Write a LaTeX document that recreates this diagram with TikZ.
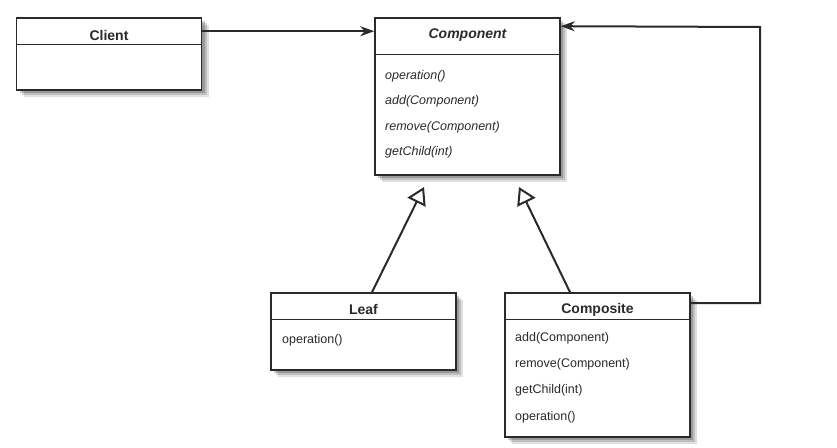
\documentclass[tikz,border=0pt]{standalone}
\usepackage{fontspec}
\setmainfont{Liberation Sans}
\usetikzlibrary{shadows,arrows.meta}
\definecolor{ink}{HTML}{2A2A2A}
\tikzset{
  classbox/.style={draw=ink, line width=1.6pt, fill=white, minimum width=185pt, inner sep=0pt,
    drop shadow={shadow xshift=7pt, shadow yshift=-7pt, opacity=.12, fill=black},
    drop shadow={shadow xshift=5pt, shadow yshift=-5pt, opacity=.15, fill=black},
    drop shadow={shadow xshift=3pt, shadow yshift=-3pt, opacity=.2, fill=black}},
  divider/.style={draw=ink, line width=1.2pt},
  classname/.style={font=\fontsize{14}{16}\selectfont\bfseries, text=ink},
  method/.style={anchor=west, font=\fontsize{12.5}{14}\selectfont, text=ink, inner sep=0pt},
  assoc/.style={draw=ink, line width=2pt, -{Stealth[length=14pt,width=10pt]}},
  inherit/.style={draw=ink, line width=2pt, -{Triangle[open,length=17pt,width=20pt,line width=2pt]}}
}
\begin{document}
\begin{tikzpicture}[x=1pt,y=-1pt]
  \useasboundingbox (0,0) rectangle (837,447);
  % Client
  \node[classbox, minimum height=72pt] (client) at (109,54) {};
  \draw[divider] ([yshift=-27pt]client.north west) -- ([yshift=-27pt]client.north east);
  \node[classname] (clientname) at ([yshift=-18.5pt]client.north) {Client};
  % Component
  \node[classbox, minimum height=157pt] (component) at (467.5,96.5) {};
  \draw[divider] ([yshift=-37pt]component.north west) -- ([yshift=-37pt]component.north east);
  \node[classname] (componentname) at ([yshift=-18pt]component.north) {\itshape Component};
  \foreach \m [count=\i] in {operation(), add(Component), remove(Component), getChild(int)}
    \node[method] (componentop\i) at (385,50.5+25.5*\i) {\itshape \m};
  % Leaf
  \node[classbox, minimum height=77pt] (leaf) at (363.5,331.5) {};
  \draw[divider] ([yshift=-27pt]leaf.north west) -- ([yshift=-27pt]leaf.north east);
  \node[classname] (leafname) at ([yshift=-17.5pt]leaf.north) {Leaf};
  \node[method] (leafop1) at (282,340) {operation()};
  % Composite
  \node[classbox, minimum height=144pt] (composite) at (597.5,365) {};
  \draw[divider] ([yshift=-27pt]composite.north west) -- ([yshift=-27pt]composite.north east);
  \node[classname] (compositename) at ([yshift=-17.5pt]composite.north) {Composite};
  \foreach \m [count=\i] in {add(Component), remove(Component), getChild(int), operation()}
    \node[method] (compositeop\i) at (515,311.7+26.3*\i) {\m};
  % connectors
  \coordinate (tipL) at (424,187);
  \coordinate (tipR) at (519,187);
  \coordinate (turn) at (760,27);
  \draw[assoc] ([yshift=-14pt]client.north east) -- ([yshift=-14pt]component.north west);
  \draw[inherit] ([xshift=8.5pt]leaf.north) -- (tipL);
  \draw[inherit] ([xshift=-27.5pt]composite.north) -- (tipR);
  \draw[assoc] ([yshift=-11pt]composite.north east) -| (turn) -- ([yshift=-9pt]component.north east);
\end{tikzpicture}
\end{document}
